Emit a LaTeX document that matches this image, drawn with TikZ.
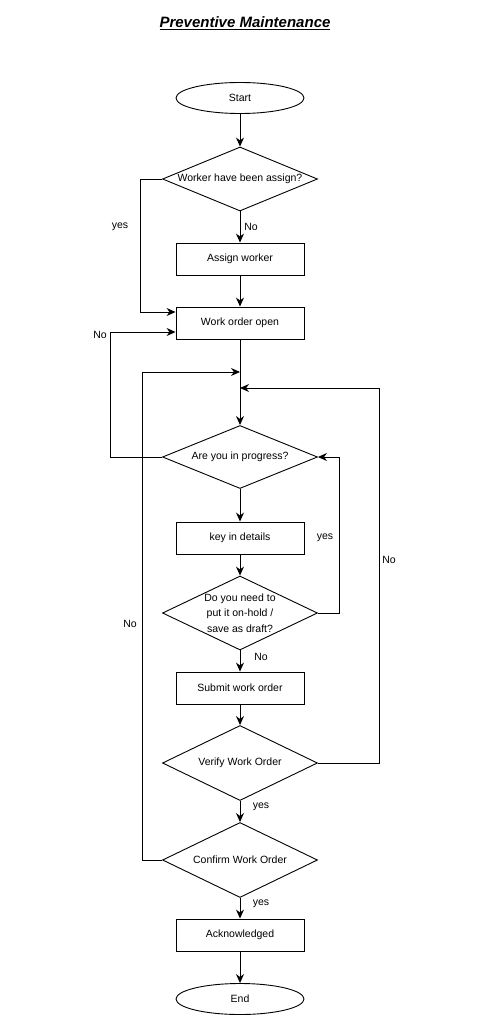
\documentclass[tikz,border=0pt]{standalone}
\usepackage{fontspec}
\setmainfont{Liberation Sans}
\usepackage{tikz}
\usetikzlibrary{shapes.geometric,arrows.meta}

\tikzset{
  terminal/.style={draw=black, line width=0.9pt, ellipse, minimum width=128pt, minimum height=31pt, inner sep=0pt, font=\fontsize{10.5}{12}\selectfont},
  process/.style={draw=black, line width=0.9pt, rectangle, minimum width=128pt, minimum height=32pt, inner sep=0pt, font=\fontsize{10.5}{12}\selectfont},
  decision/.style={draw=black, line width=0.9pt, diamond, aspect=2.3, minimum width=155pt, minimum height=63pt, inner sep=0pt, font=\fontsize{10.5}{12}\selectfont},
  flow/.style={black, line width=0.9pt, -{Stealth[length=9pt,width=8pt]}},
  lbl/.style={font=\fontsize{10.5}{12}\selectfont, inner sep=0pt}
}

\begin{document}
\begin{tikzpicture}[x=1pt, y=-1pt]
\useasboundingbox (0,0) rectangle (489,1024);
\node[font=\fontsize{15}{17}\selectfont\bfseries\itshape] (title) at (245,23) {\underline{Preventive Maintenance}};
\node[terminal] (start) at (240,98) {Start};
\node[decision] (worker) at (240,179) {Worker have been assign?};
\node[process] (assign) at (240,259) {Assign worker};
\node[process] (open) at (240,323) {Work order open};
\node[decision] (progress) at (240,457) {Are you in progress?};
\node[process] (details) at (240,538) {key in details};
\node[decision, minimum height=74pt, inner sep=-4pt, align=center, font=\fontsize{10.5}{15.5}\selectfont] (hold) at (240,613) {Do you need to\\put it on-hold /\\save as draft?};
\node[process] (submit) at (240,688) {Submit work order};
\node[decision, minimum height=75pt] (verify) at (240,763) {Verify Work Order};
\node[decision, minimum height=75pt] (confirm) at (240,860) {Confirm Work Order};
\node[process] (ack) at (240,935) {Acknowledged};
\node[terminal] (end) at (240,999) {End};
\coordinate (mergeA) at (240,372);
\coordinate (mergeB) at (240,388);
\draw[flow] (start) -- (worker);
\draw[flow] (worker) -- (assign);
\draw[flow] (assign) -- (open);
\draw[flow] (worker.west) -- ++(-22,0) |- ([yshift=11pt]open.west);
\draw[flow] (progress.west) -- ++(-52,0) |- ([yshift=-9pt]open.west);
\draw[black, line width=0.9pt] (open) -- (mergeA);
\draw[flow] (mergeA) -- (progress);
\draw[flow] (confirm.west) -- ++(-20,0) |- (mergeA);
\draw[flow] (verify.east) -- ++(61,0) |- (mergeB);
\draw[flow] (progress) -- (details);
\draw[flow] (details) -- (hold);
\draw[flow] (hold.east) -- ++(21,0) |- (progress.east);
\draw[flow] (hold) -- (submit);
\draw[flow] (submit) -- (verify);
\draw[flow] (verify) -- (confirm);
\draw[flow] (confirm) -- (ack);
\draw[flow] (ack) -- (end);
\node[lbl] (yesA) at (120,227) {yes};
\node[lbl] (noA) at (251,227) {No};
\node[lbl] (noB) at (100,335) {No};
\node[lbl] (yesB) at (325,538) {yes};
\node[lbl] (noC) at (261,657) {No};
\node[lbl] (noD) at (389,560) {No};
\node[lbl] (noE) at (130,624) {No};
\node[lbl] (yesC) at (261,807) {yes};
\node[lbl] (yesD) at (261,904) {yes};
\end{tikzpicture}
\end{document}
